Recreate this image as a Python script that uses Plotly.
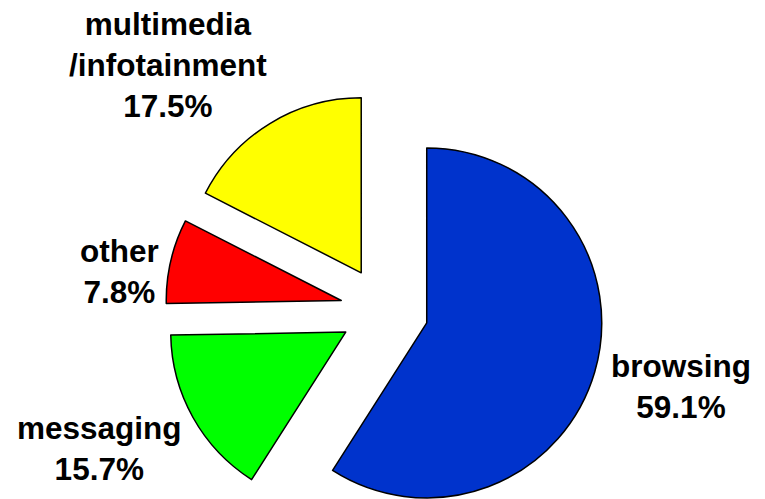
import math
import plotly.graph_objects as go

# Usage share by category (%), listed clockwise from 12 o'clock
categories = ["browsing", "messaging", "other", "multimedia<br>/infotainment"]
shares = [59.1, 15.7, 7.8, 17.5]
slice_colors = ["#0033CC", "#00FF00", "#FF0000", "#FFFF00"]

# Page geometry (px)
W, H = 765, 621
CX = 384.3        # pie centre x
R_OUT = 219.2     # radius * (1 + pull)
PULL = 0.2526
FONT = dict(family="Liberation Sans, Arial, sans-serif", size=31.5, color="black")

# Label standoff from the outer arc of each exploded slice (px, x right / y up)
label_shift = [(14, -15), (-9, 10), (-10, -10), (-1, -2)]

fig = go.Figure(
    go.Pie(
        labels=categories,
        values=shares,
        sort=False,
        direction="clockwise",
        rotation=0,
        pull=[PULL] * len(shares),
        marker=dict(colors=slice_colors, line=dict(color="black", width=1.5)),
        textinfo="none",
        hovertemplate="%{label}: %{value:.1f}%<extra></extra>",
        showlegend=False,
        domain=dict(x=[(CX - R_OUT) / W, (CX + R_OUT) / W], y=[0, 1]),
    )
)

# Outside labels, anchored at the middle of each slice's (pulled) outer arc
total = sum(shares)
start = 0.0
cy = H / 2
for name, val, (sx, sy) in zip(categories, shares, label_shift):
    span = val / total * 360.0
    mid = math.radians(start + span / 2)
    start += span
    dx, dy = math.sin(mid), -math.cos(mid)          # screen direction (y down)
    px, py = CX + R_OUT * dx, cy + R_OUT * dy
    xanchor = "left" if dx > 0 else "right"
    yanchor = "top" if dy > 0.4 else ("bottom" if dy < -0.4 else "middle")
    fig.add_annotation(
        x=px / W, y=1 - py / H, xref="paper", yref="paper",
        text=f"<b>{name}<br>{val:.1f}%</b>",
        showarrow=False, xanchor=xanchor, yanchor=yanchor, align="center",
        xshift=sx, yshift=sy, font=FONT,
    )

fig.update_layout(
    width=W,
    height=H,
    margin=dict(l=0, r=0, t=0, b=0, autoexpand=False),
    paper_bgcolor="white",
    plot_bgcolor="white",
    font=dict(family="Liberation Sans, Arial, sans-serif"),
)

fig.write_html("out.html")
